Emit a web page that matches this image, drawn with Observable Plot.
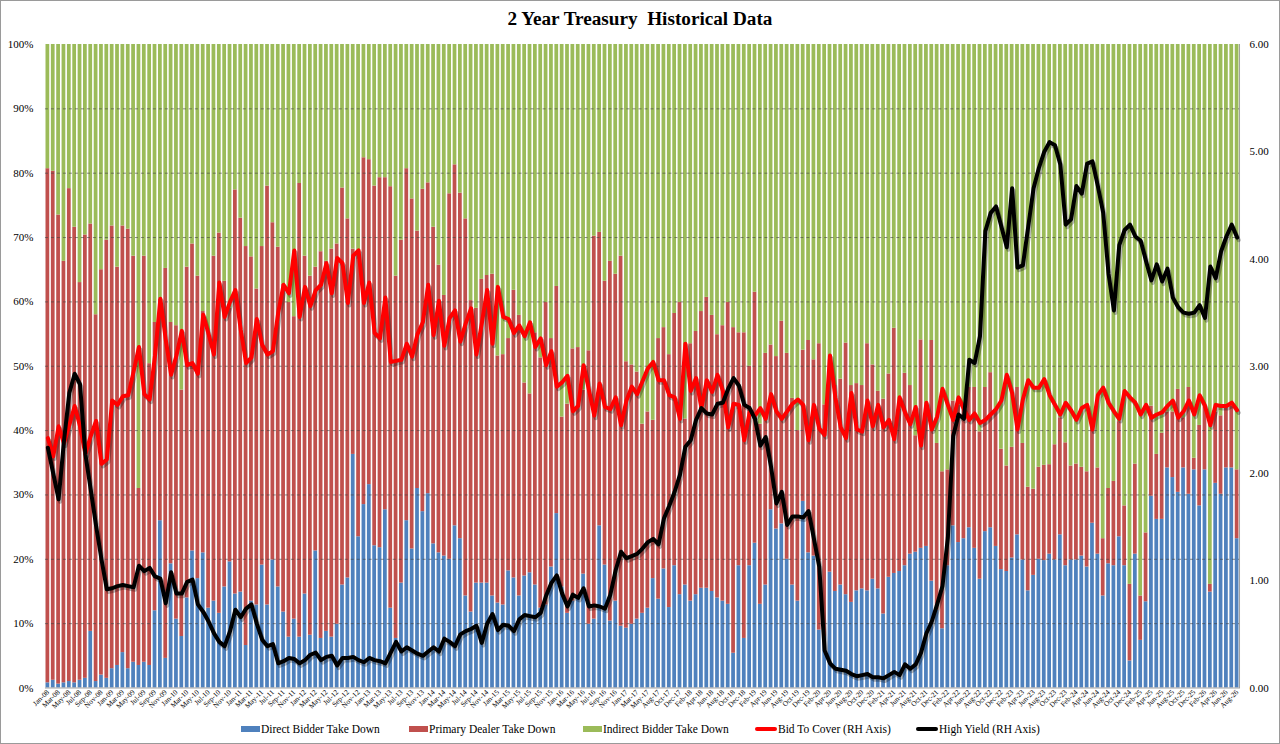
<!DOCTYPE html>
<html><head><meta charset="utf-8">
<script src="https://cdn.jsdelivr.net/npm/d3@7"></script>
<script src="https://cdn.jsdelivr.net/npm/@observablehq/plot@0.6"></script>
<style>
html,body{margin:0;padding:0;background:#fff}
#wrap{position:relative;width:1280px;height:744px;box-sizing:border-box;border:1px solid #9a9a9a;overflow:hidden;font-family:"Liberation Serif","Times New Roman",serif;color:#000}
#title{position:absolute;left:-1px;width:1280px;top:7px;text-align:center;font-weight:bold;font-size:19.2px;white-space:pre}
#chart{position:absolute;left:-1px;top:35px}
.lg{position:absolute;top:721px;height:14px;font-size:11.5px;display:flex;align-items:center;white-space:nowrap}
.sw{display:inline-block;margin-right:1px}
</style></head>
<body>
<div id="wrap">
  <div id="title">2 Year Treasury  Historical Data</div>
  <div id="chart"></div>
  <div id="legend"></div>
</div>
<script>
// ---- categories (monthly auctions; Jun-17 absent in the source) ----
const monthNames = ["Jan","Feb","Mar","Apr","May","Jun","Jul","Aug","Sep","Oct","Nov","Dec"];
const yearLabels = ["08","09","10","11","12","13","14","15","16","17","18","19","20","21","22","23","24","25","26"];
const missing = ["Jun-17"];
const lastCategory = "Aug-26";
const categories = [];
outer: for (const y of yearLabels) for (const m of monthNames) {
  const c = m + "-" + y;
  if (!missing.includes(c)) categories.push(c);
  if (c === lastCategory) break outer;
}
const tickLabels = categories.filter((_, i) => i % 2 === 0);

// ---- series (percent of auction) ----
const direct = [
 0.8,1.2,0.6,0.8,1.0,0.8,1.2,1.5,8.8,1.0,
 2.0,1.5,3.0,3.5,5.5,3.0,4.0,3.5,4.0,3.5,
 12.0,26.0,4.6,19.3,10.7,8.0,14.0,21.3,17.0,21.0,
 12.4,13.5,11.6,15.7,19.6,14.6,14.9,6.6,13.5,12.9,
 19.1,12.9,19.9,15.7,11.8,7.9,10.7,7.9,14.6,8.2,
 21.3,7.7,8.8,7.9,9.9,16.0,17.1,36.3,23.5,28.5,
 31.6,22.1,21.8,27.7,12.4,7.7,16.3,26.0,21.6,31.0,
 27.4,30.2,22.4,21.0,20.5,20.0,25.2,23.2,14.3,11.8,
 16.3,16.3,16.3,14.3,13.2,12.9,18.2,17.1,14.3,17.4,
 17.9,16.0,12.4,12.9,18.8,27.1,15.7,11.6,13.5,13.8,
 17.7,9.9,10.7,25.2,19.1,10.4,13.5,9.6,9.3,9.9,
 10.7,11.6,12.4,17.0,13.8,18.5,12.5,19.0,14.5,16.0,
 13.5,14.5,15.5,15.5,15.0,14.0,13.5,13.0,5.4,19.0,
 7.7,19.0,22.5,13.0,16.0,27.7,24.7,25.5,20.0,16.0,
 13.5,29.0,21.0,20.5,9.0,8.0,18.0,15.0,16.0,14.5,
 13.3,15.1,15.4,15.1,16.9,15.4,11.5,17.2,17.8,18.1,
 19.0,20.8,21.1,21.7,22.0,16.6,12.1,9.2,19.0,25.2,
 22.6,23.2,24.9,21.7,16.9,24.3,24.9,22.0,18.4,18.1,
 20.2,23.8,19.9,15.1,17.5,20.0,19.8,20.8,19.9,23.8,
 19.0,19.9,19.9,20.5,18.8,25.6,20.8,14.3,19.3,19.0,
 23.5,19.0,4.2,20.8,7.4,13.4,29.8,26.2,26.2,34.2,
 32.7,30.4,34.2,30.1,33.9,28.3,33.9,14.9,31.8,30.1,
 34.2,34.2,23.2];
const indirect = [
 19.3,19.7,26.5,33.7,22.4,28.4,37.0,29.6,27.9,42.0,
 35.0,30.4,28.2,34.6,28.2,28.7,32.9,69.0,32.9,49.6,
 43.2,39.6,34.8,43.2,43.7,53.7,34.6,31.0,36.0,41.5,
 44.8,32.9,29.3,36.8,41.0,22.6,27.0,31.4,33.0,38.0,
 31.4,22.0,27.7,31.5,37.3,40.1,42.3,21.6,32.9,36.0,
 34.6,32.2,33.7,31.8,31.0,22.3,27.1,31.8,32.1,17.6,
 17.9,22.0,20.7,20.7,22.1,36.0,30.4,19.3,24.0,29.0,
 22.5,21.5,28.4,34.3,39.0,23.2,18.7,23.1,27.1,39.8,
 41.0,36.5,35.9,35.7,48.4,48.2,45.7,38.2,42.1,52.6,
 54.3,44.8,48.7,40.1,45.7,37.6,57.9,55.9,47.3,47.1,
 53.7,47.6,29.8,29.2,36.8,33.7,35.7,32.9,49.3,49.8,
 50.9,59.0,57.1,58.4,45.7,44.0,48.2,41.8,40.1,58.2,
 46.5,44.6,41.5,39.3,42.1,45.1,43.7,40.1,44.0,44.8,
 44.8,50.0,38.5,59.0,48.0,46.7,48.5,43.0,48.0,55.0,
 60.0,47.5,46.0,49.0,46.5,56.0,49.0,53.0,52.0,46.4,
 53.0,52.7,53.0,46.5,49.8,53.9,55.1,51.2,44.1,56.6,
 51.1,53.0,60.8,45.9,56.0,46.0,62.0,66.4,66.1,55.4,
 56.0,56.5,53.3,53.3,60.2,53.3,51.0,56.6,62.9,65.5,
 62.6,53.3,62.0,68.8,69.1,65.7,65.4,65.3,62.2,58.0,
 61.9,65.5,65.2,65.7,66.4,58.6,65.8,76.8,69.0,67.9,
 58.6,71.7,83.9,65.2,85.7,75.9,56.2,63.7,60.4,57.1,
 57.1,53.6,58.0,53.3,64.3,59.2,56.2,83.9,57.1,57.7,
 56.2,56.2,66.1];
// ---- right-hand axis series ----
const bidToCover = [
 2.33,2.16,2.44,2.28,2.45,2.63,2.44,2.18,2.35,2.49,
 2.09,2.13,2.68,2.64,2.72,2.73,2.95,3.18,2.74,2.69,
 3.10,3.63,3.25,2.92,3.10,3.33,3.01,3.03,2.93,3.48,
 3.30,3.11,3.78,3.46,3.60,3.71,3.34,3.03,3.08,3.44,
 3.20,3.11,3.14,3.50,3.76,3.68,4.08,3.46,3.74,3.56,
 3.71,3.76,3.96,3.68,4.01,3.96,3.59,4.03,4.08,3.59,
 3.78,3.31,3.26,3.64,3.04,3.05,3.06,3.21,3.09,3.30,
 3.41,3.76,3.29,3.61,3.19,3.45,3.52,3.23,3.40,3.54,
 3.11,3.40,3.71,3.21,3.74,3.46,3.44,3.31,3.38,3.28,
 3.41,3.18,3.26,3.01,3.14,2.81,2.85,2.91,2.58,2.63,
 3.01,2.78,2.54,2.84,2.62,2.60,2.71,2.45,2.68,2.81,
 2.74,2.86,2.98,3.04,2.87,2.87,2.73,2.71,2.51,3.21,
 2.77,2.89,2.61,2.87,2.76,2.92,2.77,2.43,2.65,2.64,
 2.31,2.57,2.54,2.61,2.51,2.74,2.58,2.51,2.58,2.65,
 2.69,2.64,2.31,2.64,2.42,2.36,3.10,2.71,2.43,2.33,
 2.75,2.41,2.39,2.68,2.44,2.64,2.43,2.50,2.32,2.71,
 2.57,2.46,2.62,2.26,2.66,2.41,2.53,2.79,2.64,2.50,
 2.71,2.60,2.50,2.56,2.47,2.50,2.55,2.60,2.68,2.92,
 2.75,2.41,2.69,2.87,2.80,2.80,2.88,2.73,2.64,2.55,
 2.66,2.59,2.50,2.61,2.64,2.41,2.73,2.80,2.66,2.58,
 2.51,2.77,2.71,2.66,2.55,2.64,2.52,2.55,2.57,2.63,
 2.68,2.52,2.58,2.68,2.55,2.73,2.63,2.45,2.64,2.63,
 2.63,2.66,2.59];
const highYield = [
 2.24,2.00,1.76,2.30,2.75,2.93,2.83,2.18,1.85,1.51,
 1.20,0.92,0.93,0.95,0.96,0.95,0.94,1.14,1.09,1.12,
 1.04,1.02,0.79,1.08,0.88,0.88,0.99,1.01,0.78,0.71,
 0.62,0.51,0.43,0.39,0.53,0.73,0.66,0.74,0.78,0.60,
 0.45,0.39,0.41,0.23,0.25,0.28,0.27,0.23,0.26,0.31,
 0.33,0.26,0.29,0.30,0.21,0.28,0.28,0.29,0.26,0.24,
 0.28,0.26,0.25,0.23,0.33,0.43,0.34,0.38,0.35,0.32,
 0.30,0.34,0.38,0.34,0.46,0.43,0.39,0.50,0.53,0.55,
 0.58,0.42,0.60,0.69,0.54,0.59,0.58,0.53,0.64,0.68,
 0.67,0.66,0.70,0.86,0.98,1.05,0.88,0.76,0.87,0.84,
 0.93,0.76,0.77,0.76,0.74,0.87,1.10,1.27,1.21,1.23,
 1.25,1.30,1.36,1.39,1.34,1.58,1.70,1.83,1.99,2.25,
 2.31,2.50,2.61,2.56,2.55,2.65,2.66,2.79,2.89,2.82,
 2.64,2.61,2.51,2.26,2.34,2.06,1.72,1.83,1.52,1.60,
 1.60,1.59,1.65,1.39,1.13,0.35,0.23,0.18,0.17,0.16,
 0.13,0.11,0.12,0.13,0.10,0.10,0.09,0.12,0.15,0.12,
 0.22,0.18,0.22,0.33,0.51,0.62,0.78,0.95,1.40,2.35,
 2.55,2.51,3.06,3.03,3.28,4.26,4.43,4.49,4.30,4.11,
 4.66,3.92,3.94,4.30,4.66,4.85,5.00,5.09,5.06,4.88,
 4.32,4.37,4.68,4.61,4.89,4.91,4.68,4.43,3.86,3.52,
 4.13,4.27,4.32,4.21,4.17,3.98,3.80,3.95,3.79,3.91,
 3.64,3.55,3.50,3.49,3.50,3.57,3.45,3.93,3.82,4.07,
 4.21,4.32,4.20];

const seriesNames = ["Direct Bidder Take Down","Primary Dealer Take Down","Indirect Bidder Take Down"];
const seriesColors = ["#4F81BD","#C0504D","#9BBB59"];
const lineNames = ["Bid To Cover (RH Axis)","High Yield (RH Axis)"];
const lineColors = ["#FF0000","#000000"];
const rhMax = 6;
const rhTicks = [0,1,2,3,4,5,6];

// ---- tables ----
const stacked = categories.flatMap((c, i) => [
  {cat: c, series: seriesNames[0], value: direct[i]},
  {cat: c, series: seriesNames[1], value: 100 - direct[i] - indirect[i]},
  {cat: c, series: seriesNames[2], value: indirect[i]}
]);
const toPct = v => v * 100 / rhMax;
const lines = categories.map((c, i) => ({cat: c, btc: toPct(bidToCover[i]), hy: toPct(highYield[i])}));

const chart = Plot.plot({
  width: 1280, height: 680,
  marginLeft: 45, marginRight: 40, marginTop: 8, marginBottom: 28,
  style: {fontFamily: "'Liberation Serif', 'Times New Roman', serif", fontSize: "11px", color: "#000", background: "transparent"},
  x: {type: "band", domain: categories, paddingInner: 0.3, paddingOuter: 0.1, axis: null},
  y: {domain: [0, 100], axis: null},
  color: {domain: seriesNames, range: seriesColors},
  marks: [
    Plot.barY(stacked, {x: "cat", y: "value", fill: "series"}),
    Plot.ruleY([10,20,30,40,50,60,70,80,90], {stroke: "#404040", strokeOpacity: 0.75, strokeWidth: 0.8, strokeDasharray: "3,3"}),
    Plot.ruleY([0], {stroke: "#a0a0a0"}),
    Plot.frame({anchor: "right", stroke: "#a0a0a0"}),
    Plot.line(lines, {x: "cat", y: "btc", stroke: "#000", strokeOpacity: 0.28, strokeWidth: 4.2, dx: 1.5, dy: 2.5}),
    Plot.line(lines, {x: "cat", y: "hy", stroke: "#000", strokeOpacity: 0.28, strokeWidth: 4.2, dx: 1.5, dy: 2.5}),
    Plot.line(lines, {x: "cat", y: "btc", stroke: lineColors[0], strokeWidth: 4}),
    Plot.line(lines, {x: "cat", y: "hy", stroke: lineColors[1], strokeWidth: 4}),
    Plot.axisY({ticks: [0,10,20,30,40,50,60,70,80,90,100], tickFormat: d => d + "%", tickSize: 0, tickPadding: 12, label: null, fontSize: 11}),
    Plot.axisY({anchor: "right", ticks: rhTicks.map(toPct), tickFormat: d => (d * rhMax / 100).toFixed(2), tickSize: 0, tickPadding: 10, label: null, fontSize: 11}),
    Plot.axisX({ticks: tickLabels, tickRotate: -45, tickSize: 0, tickPadding: 3, fontSize: 7.3, label: null})
  ]
});
document.getElementById("chart").appendChild(chart);

// ---- legend ----
const legendItems = [
  {name: seriesNames[0], color: seriesColors[0], kind: "bar", left: 241},
  {name: seriesNames[1], color: seriesColors[1], kind: "bar", left: 409},
  {name: seriesNames[2], color: seriesColors[2], kind: "bar", left: 583},
  {name: lineNames[0], color: lineColors[0], kind: "line", left: 755},
  {name: lineNames[1], color: lineColors[1], kind: "line", left: 916}
];
const lg = document.getElementById("legend");
for (const it of legendItems) {
  const d = document.createElement("div");
  d.className = "lg";
  d.style.left = (it.left - 1) + "px";
  const sw = document.createElement("span");
  sw.className = "sw";
  sw.style.background = it.color;
  sw.style.width = (it.kind === "bar" ? 19 : 22) + "px";
  sw.style.height = (it.kind === "bar" ? 6 : 4) + "px";
  if (it.kind === "line") sw.style.borderRadius = "2px";
  d.appendChild(sw);
  const t = document.createElement("span");
  t.textContent = it.name;
  d.appendChild(t);
  lg.appendChild(d);
}
</script>
</body></html>
